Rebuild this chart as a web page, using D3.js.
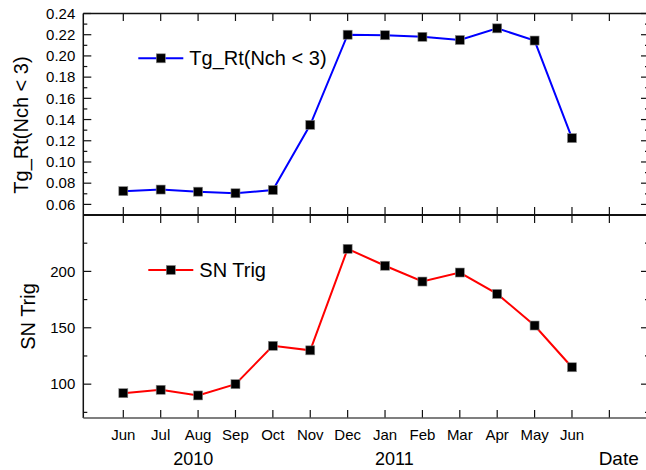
<!DOCTYPE html>
<html>
<head>
<meta charset="utf-8">
<script src="https://cdn.jsdelivr.net/npm/d3@7/dist/d3.min.js"></script>
<style>
  html, body { margin: 0; padding: 0; background: #fff; }
  svg { display: block; font-family: "Liberation Sans", Arial, sans-serif; }
</style>
</head>
<body>
<svg id="chart" width="646" height="470"></svg>
<script>
// Monthly values, June 2010 through June 2011
const months = ["Jun", "Jul", "Aug", "Sep", "Oct", "Nov", "Dec", "Jan", "Feb", "Mar", "Apr", "May", "Jun"];
const years = ["2010", "2011"];
const tgRt = [0.0725, 0.074, 0.072, 0.0705, 0.0735, 0.135, 0.220, 0.2195, 0.218, 0.215, 0.226, 0.2145, 0.1225];
const snTrig = [92, 95, 90, 100, 134, 130, 220, 205, 191, 199, 180, 152, 115];
const tgTicks = [0.06, 0.08, 0.10, 0.12, 0.14, 0.16, 0.18, 0.20, 0.22, 0.24];
const snTicks = [100, 150, 200];

const svg = d3.select("#chart");
const left = 83.3, right = 649;
const top1 = 13.5, bot1 = 215, bot2 = 418;

const x = d3.scaleLinear().domain([-1.07, 14.06]).range([left, right]);
const y1 = d3.scaleLinear().domain([0.05, 0.24]).range([bot1, top1]);
const y2 = d3.scaleLinear().domain([70, 250]).range([bot2, bot1]);

const monthIdx = d3.range(0, 14);
const axisColor = "#111";

function yTicks(scale, major, minorStep, x0, x1) {
  const [d0, d1] = scale.domain();
  const minor = d3.range(Math.ceil(d0 / minorStep - 1e-9) * minorStep, d1 + 1e-9, minorStep);
  const g = svg.append("g").attr("stroke", axisColor).attr("stroke-width", 1.2);
  minor.forEach(v => {
    const isMajor = major.some(m => Math.abs(m - v) < minorStep / 10);
    const len = isMajor ? 8 : 4;
    const yy = scale(v);
    g.append("line").attr("x1", x0).attr("x2", x0 + len).attr("y1", yy).attr("y2", yy);
    g.append("line").attr("x1", x1).attr("x2", x1 - len).attr("y1", yy).attr("y2", yy);
  });
  svg.append("g").selectAll("text").data(major).join("text")
    .attr("x", x0 - 8).attr("y", d => scale(d) + 5.3)
    .attr("text-anchor", "end").attr("font-size", 15).attr("fill", "#000")
    .text(d => scale === y1 ? d3.format(".2f")(d) : d);
}

function xTicks(yy, dir, len) {
  svg.append("g").attr("stroke", axisColor).attr("stroke-width", 1.2)
    .selectAll("line").data(monthIdx).join("line")
    .attr("x1", d => x(d)).attr("x2", d => x(d))
    .attr("y1", yy).attr("y2", yy + dir * len);
}

yTicks(y1, tgTicks, 0.01, left, right);
yTicks(y2, snTicks, 25, left, right);
xTicks(top1, 1, 7.5);
xTicks(bot1, -1, 8);
xTicks(bot1, 1, 8);
xTicks(bot2, -1, 8);

// frame lines
const frame = svg.append("g").attr("stroke", axisColor).attr("fill", "none");
frame.append("line").attr("x1", left).attr("x2", right).attr("y1", top1).attr("y2", top1).attr("stroke-width", 1.5);
frame.append("line").attr("x1", left).attr("x2", left).attr("y1", top1).attr("y2", bot2).attr("stroke-width", 1.5);
frame.append("line").attr("x1", left).attr("x2", right).attr("y1", bot1).attr("y2", bot1).attr("stroke-width", 2.2);
frame.append("line").attr("x1", left).attr("x2", right).attr("y1", bot2).attr("y2", bot2).attr("stroke-width", 1.5).attr("stroke", "#555");
frame.append("line").attr("x1", right).attr("x2", right).attr("y1", top1).attr("y2", bot2).attr("stroke-width", 1.5);

// month and year labels
svg.append("g").selectAll("text").data(months).join("text")
  .attr("x", (d, i) => x(i)).attr("y", 440)
  .attr("text-anchor", "middle").attr("font-size", 15).attr("fill", "#000")
  .text(d => d);
svg.append("text").attr("x", x(1.87)).attr("y", 465).attr("text-anchor", "middle")
  .attr("font-size", 18).text(years[0]);
svg.append("text").attr("x", x(7.25)).attr("y", 465).attr("text-anchor", "middle")
  .attr("font-size", 18).text(years[1]);
svg.append("text").attr("x", x(13.25)).attr("y", 465).attr("text-anchor", "middle")
  .attr("font-size", 19).text("Date");

// axis titles
svg.append("text").attr("transform", "translate(28,125) rotate(-90)")
  .attr("text-anchor", "middle").attr("font-size", 20).text("Tg_Rt(Nch < 3)");
svg.append("text").attr("transform", `translate(35,${(bot1 + bot2) / 2}) rotate(-90)`)
  .attr("text-anchor", "middle").attr("font-size", 20).text("SN Trig");

function series(values, yScale, color) {
  const line = d3.line().x((d, i) => x(i)).y(d => yScale(d));
  svg.append("path").datum(values).attr("d", line)
    .attr("fill", "none").attr("stroke", color).attr("stroke-width", 2);
  const s = 9;
  svg.append("g").selectAll("rect").data(values).join("rect")
    .attr("x", (d, i) => x(i) - s / 2).attr("y", d => yScale(d) - s / 2)
    .attr("width", s).attr("height", s)
    .attr("fill", "#000").attr("stroke", "#888").attr("stroke-width", 0.6);
}
series(tgRt, y1, "#0000ff");
series(snTrig, y2, "#ff0000");

function legend(lx, ly, color, label) {
  const g = svg.append("g");
  g.append("line").attr("x1", lx).attr("x2", lx + 45).attr("y1", ly).attr("y2", ly)
    .attr("stroke", color).attr("stroke-width", 2);
  g.append("rect").attr("x", lx + 22.5 - 4.5).attr("y", ly - 4.5).attr("width", 9).attr("height", 9)
    .attr("fill", "#000").attr("stroke", "#888").attr("stroke-width", 0.6);
  g.append("text").attr("x", lx + 51).attr("y", ly + 7).attr("font-size", 20).text(label);
}
legend(138.3, 58.3, "#0000ff", "Tg_Rt(Nch < 3)");
legend(148.3, 270, "#ff0000", "SN Trig");
</script>
</body>
</html>
